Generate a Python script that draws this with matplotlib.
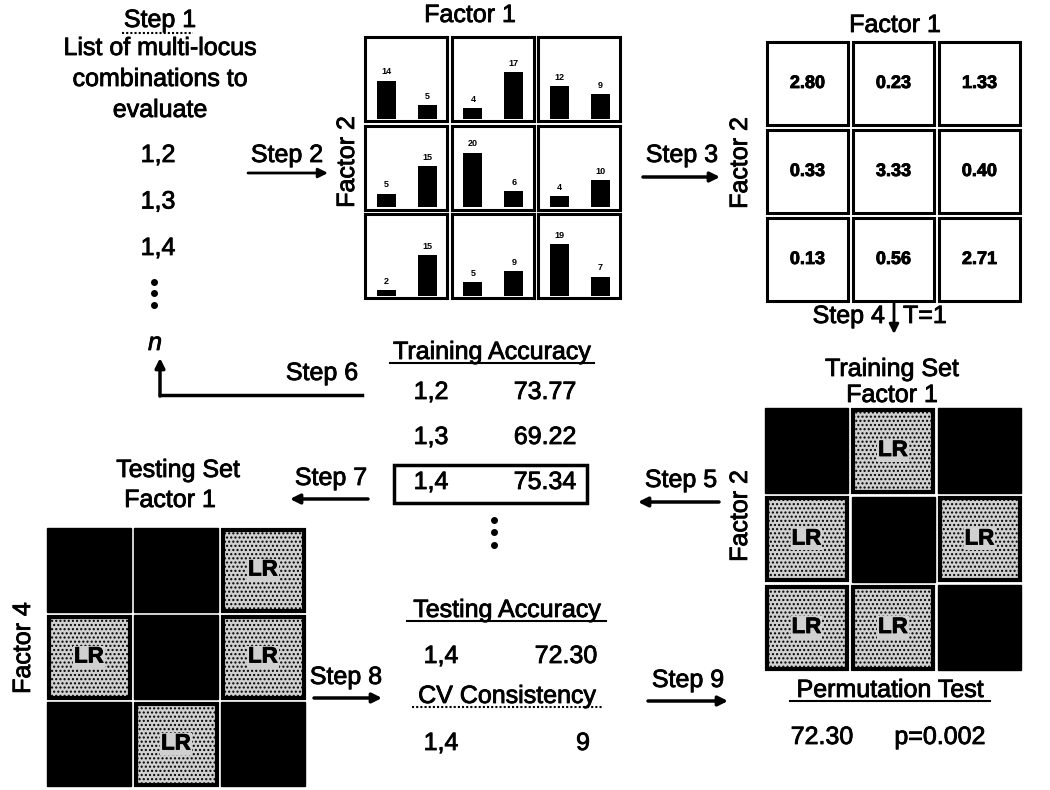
import matplotlib.pyplot as plt
import matplotlib.patheffects as pe
from matplotlib.patches import Rectangle

plt.rcParams['font.family'] = ['Liberation Sans', 'DejaVu Sans']

W, H = 1050, 790
FS = 18

# multi-locus combinations and their training accuracies
combos = ["1,2", "1,3", "1,4"]
train_acc = [73.77, 69.22, 75.34]
best_combo = "1,4"

# step 2: case / control counts per genotype cell (rows = factor 2, cols = factor 1)
case_counts = [[14, 4, 12],
               [5, 20, 4],
               [2, 5, 19]]
control_counts = [[5, 17, 9],
                  [15, 6, 10],
                  [15, 9, 7]]

# step 3: case/control ratios
ratios = [[2.80, 0.23, 1.33],
          [0.33, 3.33, 0.40],
          [0.13, 0.56, 2.71]]
threshold = 1

# testing set high-risk cells (factor 1 x factor 4), 1 = high risk
test_high_risk = [[1, 1, 0],
                  [0, 1, 0],
                  [1, 0, 1]]

test_acc = 72.30
cv_consistency = 9
perm_acc = 72.30
perm_p = 0.002

# the scanned original has heavy strokes
HEAVY = [pe.withStroke(linewidth=0.6, foreground='black')]


def frac(x0, y0, x1, y1):
    return [x0 / W, 1 - y1 / H, (x1 - x0) / W, (y1 - y0) / H]


def cell_box(x0, y0, cw, ch, gap, r, c):
    x = x0 + c * (cw + gap)
    y = y0 + r * (ch + gap)
    return x, y, x + cw, y + ch


def label(ax, x, y, s, **kw):
    kw.setdefault('fontsize', FS)
    kw.setdefault('ha', 'center')
    kw.setdefault('va', 'center')
    return ax.text(x, y, s, path_effects=HEAVY, **kw)


def arrow(ax, start, end, lw=2.5):
    ax.annotate('', xy=end, xytext=start,
                arrowprops=dict(arrowstyle='-|>', lw=lw, color='black',
                                mutation_scale=14, shrinkA=0, shrinkB=0))


def underline(ax, x0, x1, y, dotted=False):
    ax.plot([x0, x1], [y, y], color='black', lw=1.5,
            ls=(0, (1, 1)) if dotted else '-')


def risk_grid(ax, x0, y0, cw, ch, gap, high):
    for r in range(3):
        for c in range(3):
            xa, ya, xb, yb = cell_box(x0, y0, cw, ch, gap, r, c)
            if high[r][c]:
                ax.add_patch(Rectangle((xa, ya), cw, ch, facecolor='black',
                                       edgecolor='black', lw=1))
            else:
                ax.add_patch(Rectangle((xa + 1.5, ya + 1.5), cw - 3, ch - 3,
                                       facecolor='#d0d0d0', edgecolor='black',
                                       hatch='....', lw=3))
                label(ax, (xa + xb) / 2, (ya + yb) / 2, "LR", fontsize=16,
                      fontweight='bold',
                      bbox=dict(facecolor='#d0d0d0', edgecolor='none', pad=0.5))


fig = plt.figure(figsize=(W / 100, H / 100), dpi=100)
ax = fig.add_axes([0, 0, 1, 1])
ax.set_xlim(0, W)
ax.set_ylim(H, 0)
ax.axis('off')

# ---- step 1: list of combinations
label(ax, 160, 20, "Step 1")
underline(ax, 122, 193, 33, dotted=True)
for i, line in enumerate(["List of multi-locus", "combinations to", "evaluate"]):
    label(ax, 160, 48 + i * 31, line)
for i, cmb in enumerate(combos):
    label(ax, 158, 155 + i * 46.5, cmb)
ax.plot([154, 154, 154], [282, 293, 305], 'o', color='black', ms=4)
label(ax, 155, 343, "n", style='italic')

# ---- step 2: counts per cell
label(ax, 287, 155, "Step 2")
arrow(ax, (248, 173), (328, 173), lw=2)
label(ax, 470, 15, "Factor 1")
label(ax, 347, 162, "Factor 2", rotation=90)
for r in range(3):
    for c in range(3):
        xa, ya, xb, yb = cell_box(365, 37, 82, 84, 4.5, r, c)
        bax = fig.add_axes(frac(xa, ya, xb, yb))
        vals = [case_counts[r][c], control_counts[r][c]]
        bax.bar([0.26, 0.76], vals, width=0.23, color='black')
        for xv, v in zip([0.26, 0.76], vals):
            bax.text(xv, v + 1.6, str(v), fontsize=6.5, fontweight='bold',
                     ha='center', va='bottom')
        bax.set_xlim(0, 1)
        bax.set_ylim(-0.8, 30)
        bax.set_xticks([])
        bax.set_yticks([])
        for sp in bax.spines.values():
            sp.set_linewidth(2.2)

# ---- step 3: ratios
label(ax, 682, 155, "Step 3")
arrow(ax, (643, 177), (720, 177))
label(ax, 895, 25, "Factor 1")
label(ax, 740, 163, "Factor 2", rotation=90)
for r in range(3):
    for c in range(3):
        xa, ya, xb, yb = cell_box(767, 42, 81, 83, 5, r, c)
        ax.add_patch(Rectangle((xa, ya), xb - xa, yb - ya, facecolor='white',
                               edgecolor='black', lw=2.2))
        label(ax, (xa + xb) / 2, (ya + yb) / 2, f"{ratios[r][c]:.2f}",
              fontsize=13, fontweight='bold')

# ---- step 4: threshold
label(ax, 885, 316, "Step 4", ha='right')
arrow(ax, (894, 302), (894, 334), lw=2)
label(ax, 903, 316, f"T={threshold}", ha='left')

# training set high/low risk
train_high = [[1 if v >= threshold else 0 for v in row] for row in ratios]
label(ax, 892, 369, "Training Set")
label(ax, 892, 395, "Factor 1")
label(ax, 740, 516, "Factor 2", rotation=90)
risk_grid(ax, 765, 408, 83, 85, 3.5, train_high)

# ---- step 5: training accuracy
label(ax, 681, 480, "Step 5")
arrow(ax, (719, 502), (638, 502))
label(ax, 492, 352, "Training Accuracy")
underline(ax, 390, 594, 363)
for i, (cmb, acc) in enumerate(zip(combos, train_acc)):
    y = 392 + i * 45
    label(ax, 431, y, cmb)
    label(ax, 545, y, f"{acc:.2f}")
ax.add_patch(Rectangle((394, 465), 193, 38, facecolor='none',
                       edgecolor='black', lw=2.5))
ax.plot([494, 494, 494], [520, 532, 545], 'o', color='black', ms=4)

# ---- step 6: loop back
ax.plot([362, 160], [395, 395], color='black', lw=2.5)
arrow(ax, (160, 396), (160, 358))
label(ax, 322, 373, "Step 6")

# ---- step 7: testing set
label(ax, 331, 478, "Step 7")
arrow(ax, (368, 499), (290, 499))
label(ax, 178, 470, "Testing Set")
label(ax, 170, 500, "Factor 1")
label(ax, 23, 648, "Factor 4", rotation=90)
risk_grid(ax, 47, 528, 84, 84, 3, test_high_risk)

# ---- step 8: testing accuracy and CV consistency
label(ax, 346, 677, "Step 8")
arrow(ax, (314, 698), (382, 698))
label(ax, 507, 610, "Testing Accuracy")
underline(ax, 407, 606, 621)
label(ax, 441, 656, best_combo)
label(ax, 566, 656, f"{test_acc:.2f}")
label(ax, 507, 696, "CV Consistency")
underline(ax, 412, 602, 707, dotted=True)
label(ax, 441, 743, best_combo)
label(ax, 583, 743, f"{cv_consistency}")

# ---- step 9: permutation test
label(ax, 688, 680, "Step 9")
arrow(ax, (648, 701), (728, 701))
label(ax, 890, 690, "Permutation Test")
underline(ax, 790, 990, 701)
label(ax, 822, 737, f"{perm_acc:.2f}")
label(ax, 940, 737, f"p={perm_p:.3f}")

fig.savefig("out.png", dpi=100)
